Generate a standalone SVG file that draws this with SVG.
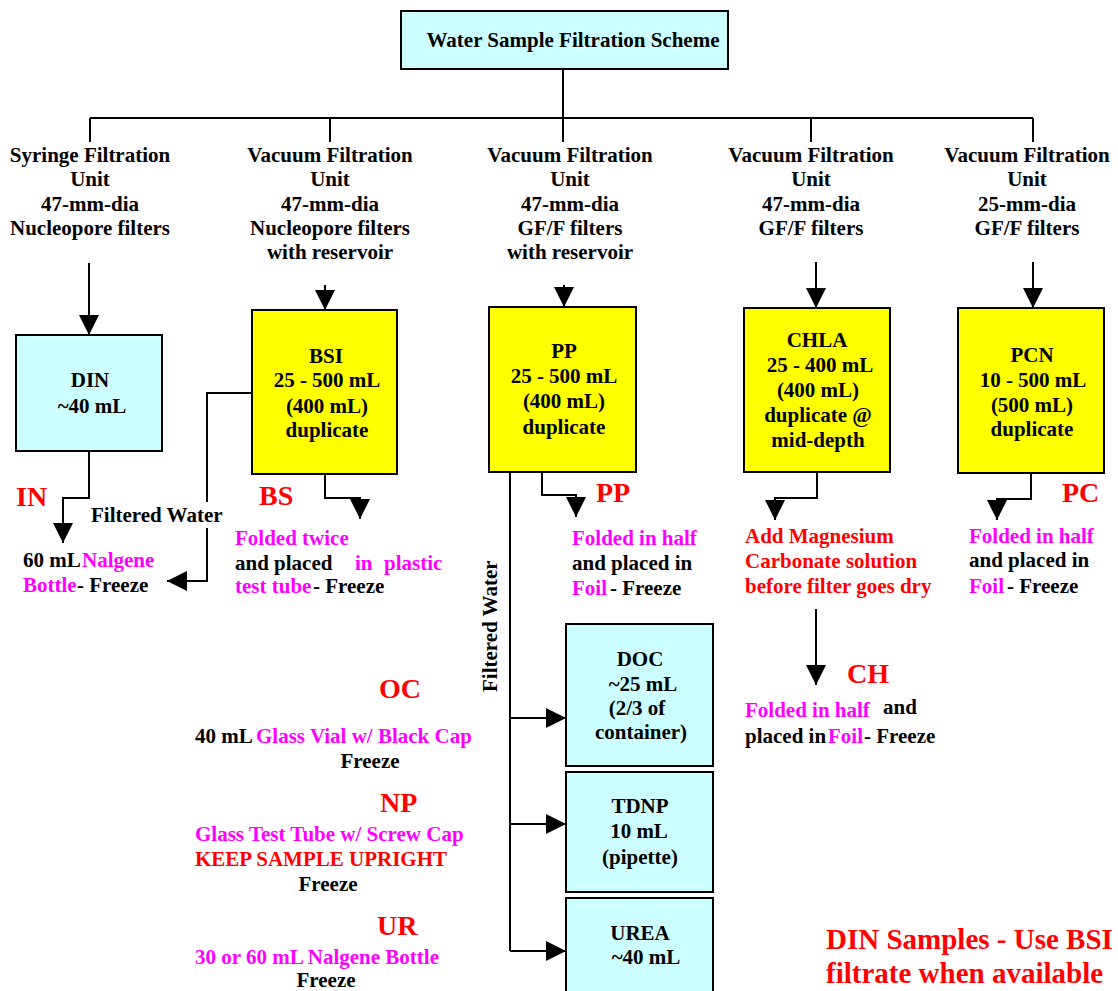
<svg xmlns="http://www.w3.org/2000/svg" width="1118" height="991" viewBox="0 0 1118 991">
<style>
text{font-family:"Liberation Serif","Times New Roman",serif;font-weight:bold;font-size:21px;fill:#000}
.c{text-anchor:middle}
.m{fill:#FF00FF}
.r{fill:#FF0000}
.lbl{font-size:28px;fill:#FF0000}
.note{font-size:29px;fill:#FF0000}
.box{stroke:#000;stroke-width:2}
.cy{fill:#CCFFFF}
.ye{fill:#FFFF00}
.ln{fill:none;stroke:#000;stroke-width:2}
</style>
<defs>
<marker id="ah" viewBox="0 0 20 20" refX="20" refY="10" markerWidth="20" markerHeight="20" markerUnits="userSpaceOnUse" orient="auto">
<path d="M0,0 L20,10 L0,20 z" fill="#000"/>
</marker>
</defs>
<rect width="1118" height="991" fill="#fff"/>

<g id="connectors" class="ln">
<path d="M563,69 V118"/>
<path d="M90,118 H1033"/>
<path d="M90,118 V142 M330,118 V142 M563,118 V142 M811,118 V142 M1033,118 V142"/>
<path d="M89,263 V335" marker-end="url(#ah)"/>
<path d="M325,285 V310" marker-end="url(#ah)"/>
<path d="M564,285 V307" marker-end="url(#ah)"/>
<path d="M816,262 V308" marker-end="url(#ah)"/>
<path d="M1033,262 V308" marker-end="url(#ah)"/>
<path d="M89,451 V498 H63 V543" marker-end="url(#ah)"/>
<path d="M252,393 H207 V502"/>
<path d="M207,528 V581 H167" marker-end="url(#ah)"/>
<path d="M325,474 V498 H360 V519" marker-end="url(#ah)"/>
<path d="M510,472 V951"/>
<path d="M510,718 H566" marker-end="url(#ah)"/>
<path d="M510,824 H566" marker-end="url(#ah)"/>
<path d="M510,951 H566" marker-end="url(#ah)"/>
<path d="M542,472 V495 H576 V517" marker-end="url(#ah)"/>
<path d="M817,472 V498 H775 V520" marker-end="url(#ah)"/>
<path d="M816,609 V685" marker-end="url(#ah)"/>
<path d="M1031,473 V499 H997 V520" marker-end="url(#ah)"/>
</g>

<g id="title">
<rect class="box cy" x="401" y="11" width="327" height="58"/>
<text class="c" x="573" y="47">Water Sample Filtration Scheme</text>
</g>

<g id="hdr-syringe">
<text class="c" x="90" y="162">Syringe Filtration</text>
<text class="c" x="90" y="186">Unit</text>
<text class="c" x="90" y="211">47-mm-dia</text>
<text class="c" x="90" y="235">Nucleopore filters</text>
</g>
<g id="hdr-vac1">
<text class="c" x="330" y="162">Vacuum Filtration</text>
<text class="c" x="330" y="186">Unit</text>
<text class="c" x="330" y="211">47-mm-dia</text>
<text class="c" x="330" y="235">Nucleopore filters</text>
<text class="c" x="330" y="259">with reservoir</text>
</g>
<g id="hdr-vac2">
<text class="c" x="570" y="162">Vacuum Filtration</text>
<text class="c" x="570" y="186">Unit</text>
<text class="c" x="570" y="211">47-mm-dia</text>
<text class="c" x="570" y="235">GF/F filters</text>
<text class="c" x="570" y="259">with reservoir</text>
</g>
<g id="hdr-vac3">
<text class="c" x="811" y="162">Vacuum Filtration</text>
<text class="c" x="811" y="186">Unit</text>
<text class="c" x="811" y="211">47-mm-dia</text>
<text class="c" x="811" y="235">GF/F filters</text>
</g>
<g id="hdr-vac4">
<text class="c" x="1027" y="162">Vacuum Filtration</text>
<text class="c" x="1027" y="186">Unit</text>
<text class="c" x="1027" y="211">25-mm-dia</text>
<text class="c" x="1027" y="235">GF/F filters</text>
</g>

<g id="din">
<rect class="box cy" x="16" y="335" width="146" height="116"/>
<text class="c" x="90" y="387">DIN</text>
<text class="c" x="92" y="413">~40 mL</text>
</g>
<g id="bsi">
<rect class="box ye" x="252" y="310" width="145" height="164"/>
<text class="c" x="326" y="363">BSI</text>
<text class="c" x="327" y="387">25 - 500 mL</text>
<text class="c" x="327" y="413">(400 mL)</text>
<text class="c" x="327" y="437">duplicate</text>
</g>
<g id="pp">
<rect class="box ye" x="489" y="307" width="147" height="165"/>
<text class="c" x="564" y="358">PP</text>
<text class="c" x="564" y="383">25 - 500 mL</text>
<text class="c" x="564" y="408">(400 mL)</text>
<text class="c" x="564" y="434">duplicate</text>
</g>
<g id="chla">
<rect class="box ye" x="744" y="308" width="146" height="164"/>
<text class="c" x="817" y="347">CHLA</text>
<text class="c" x="820" y="372">25 - 400 mL</text>
<text class="c" x="818" y="397">(400 mL)</text>
<text class="c" x="818" y="422">duplicate @</text>
<text class="c" x="818" y="447">mid-depth</text>
</g>
<g id="pcn">
<rect class="box ye" x="958" y="308" width="146" height="165"/>
<text class="c" x="1032" y="362">PCN</text>
<text class="c" x="1033" y="387">10 - 500 mL</text>
<text class="c" x="1032" y="412">(500 mL)</text>
<text class="c" x="1032" y="436">duplicate</text>
</g>
<g id="doc">
<rect class="box cy" x="566" y="624" width="147" height="142"/>
<text class="c" x="640" y="666">DOC</text>
<text class="c" x="643" y="691">~25 mL</text>
<text class="c" x="637" y="715">(2/3 of</text>
<text class="c" x="641" y="739">container)</text>
</g>
<g id="tdnp">
<rect class="box cy" x="566" y="772" width="147" height="120"/>
<text class="c" x="640" y="813">TDNP</text>
<text class="c" x="639" y="838">10 mL</text>
<text class="c" x="640" y="864">(pipette)</text>
</g>
<g id="urea">
<rect class="box cy" x="566" y="898" width="147" height="100"/>
<text class="c" x="640" y="940">UREA</text>
<text class="c" x="646" y="964">~40 mL</text>
</g>

<g id="out-in">
<text class="lbl" x="16" y="506">IN</text>
<text x="23" y="567">60 mL<tspan class="m" x="82">Nalgene</tspan></text>
<text x="23" y="592"><tspan class="m">Bottle</tspan><tspan x="77">- Freeze</tspan></text>
</g>
<g id="filtered-water-1">
<text x="91" y="522">Filtered Water</text>
</g>
<g id="out-bs">
<text class="lbl" x="259" y="505">BS</text>
<text class="m" x="235" y="545">Folded twice</text>
<text x="235" y="570">and placed<tspan class="m" x="355">in</tspan><tspan class="m" x="384">plastic</tspan></text>
<text x="235" y="593"><tspan class="m">test tube</tspan><tspan x="313">- Freeze</tspan></text>
</g>
<g id="out-pp">
<text class="lbl" x="596" y="502">PP</text>
<text class="m" x="572" y="545">Folded in half</text>
<text x="572" y="570">and placed in</text>
<text x="572" y="595"><tspan class="m">Foil</tspan><tspan x="610">- Freeze</tspan></text>
</g>
<g id="filtered-water-2">
<text transform="translate(497,692) rotate(-90)" x="0" y="0">Filtered Water</text>
</g>
<g id="out-chla">
<text class="r" x="745" y="543">Add Magnesium</text>
<text class="r" x="745" y="568">Carbonate solution</text>
<text class="r" x="745" y="593">before filter goes dry</text>
</g>
<g id="out-ch">
<text class="lbl" x="847" y="683">CH</text>
<text class="m" x="745" y="717">Folded in half</text>
<text x="883" y="714">and</text>
<text x="745" y="743">placed in<tspan class="m" x="828">Foil</tspan><tspan x="864">- Freeze</tspan></text>
</g>
<g id="out-pc">
<text class="lbl" x="1062" y="502">PC</text>
<text class="m" x="969" y="543">Folded in half</text>
<text x="969" y="567">and placed in</text>
<text x="969" y="593"><tspan class="m">Foil</tspan><tspan x="1007">- Freeze</tspan></text>
</g>
<g id="out-oc">
<text class="lbl" x="379" y="698">OC</text>
<text x="195" y="743">40 mL<tspan class="m" x="256">Glass Vial w/ Black Cap</tspan></text>
<text class="c" x="370" y="768">Freeze</text>
</g>
<g id="out-np">
<text class="lbl" x="380" y="812">NP</text>
<text class="m" x="195" y="841">Glass Test Tube w/ Screw Cap</text>
<text class="r" x="195" y="866">KEEP SAMPLE UPRIGHT</text>
<text class="c" x="328" y="891">Freeze</text>
</g>
<g id="out-ur">
<text class="lbl" x="377" y="935">UR</text>
<text class="m" x="195" y="964">30 or 60 mL Nalgene Bottle</text>
<text class="c" x="326" y="987">Freeze</text>
</g>
<g id="din-note">
<text class="note" x="826" y="949">DIN Samples - Use BSI</text>
<text class="note" x="826" y="983">filtrate when available</text>
</g>
</svg>
